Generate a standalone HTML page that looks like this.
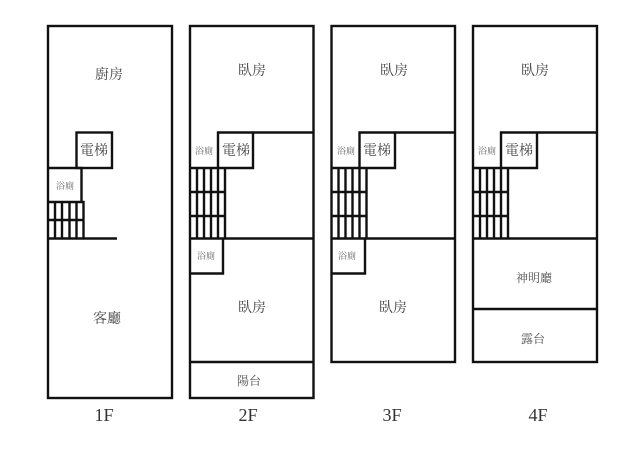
<!DOCTYPE html>
<html><head><meta charset="utf-8">
<style>
html,body{margin:0;padding:0;background:#fff;width:640px;height:452px;overflow:hidden}
svg{display:block}
text{font-family:"Liberation Serif","Noto Serif CJK SC",serif;fill:#444;text-anchor:middle}
.a{font-size:14px}.b{font-size:9px;fill:#666}.c{font-size:12px;fill:#555}
.f{font-size:18px;fill:#333}
</style></head><body>
<svg width="640" height="452" viewBox="0 0 640 452" xmlns="http://www.w3.org/2000/svg">
<g fill="none" stroke="#111" stroke-width="2.4">
<!-- 1F -->
<rect x="48" y="26" width="124" height="372"/>
<rect x="76.500" y="132.500" width="35.500" height="35.500"/>
<path d="M48 168H81.500V202M48 202H83.500V238M48 220H83.500M48 238.500H117M55 202V238M62 202V238M69.500 202V238M76.500 202V238"/>
<!-- 2F -->
<rect x="190" y="26" width="123.500" height="372"/>
<path d="M218 168V132.500H313.500M218 132.500H253V168H190M190 192H225M190 216H225M190 238.500H313.500M197 168V238M204 168V238M211 168V238M218 168V238M225 168V238M190 273.500H223V238M190 362H313.500"/>
<!-- 3F -->
<rect x="331.500" y="26" width="123.500" height="336"/>
<path d="M359.500 168V132.500H455M359.500 132.500H395V168H331.500M331.500 192H366.500M331.500 216H366.500M331.500 238.500H455M338.500 168V238M345.500 168V238M352.500 168V238M359.500 168V238M366.500 168V238M331.500 273.500H365V238"/>
<!-- 4F -->
<rect x="473" y="26" width="124" height="336"/>
<path d="M501 168V132.500H597M501 132.500H537V168H473M473 192H508M473 216H508M473 238.500H597M480 168V238M487 168V238M494 168V238M501 168V238M508 168V238M473 309H597"/>
</g>
<g>
<text class="a" x="109" y="79">廚房</text>
<text class="a" x="94" y="155">電梯</text>
<text class="b" x="65" y="189">浴廁</text>
<text class="a" x="107" y="323">客廳</text>
<text class="a" x="252" y="75">臥房</text>
<text class="b" x="204" y="154">浴廁</text>
<text class="a" x="236" y="155">電梯</text>
<text class="b" x="206" y="259">浴廁</text>
<text class="a" x="252" y="312">臥房</text>
<text class="c" x="249" y="385">陽台</text>
<text class="a" x="394" y="75">臥房</text>
<text class="b" x="346" y="154">浴廁</text>
<text class="a" x="377" y="155">電梯</text>
<text class="b" x="347" y="259">浴廁</text>
<text class="a" x="393" y="312">臥房</text>
<text class="a" x="535" y="75">臥房</text>
<text class="b" x="487" y="154">浴廁</text>
<text class="a" x="519" y="155">電梯</text>
<text class="c" x="534" y="282">神明廳</text>
<text class="c" x="533" y="343">露台</text>
</g>
<text class="f" x="104" y="421">1F</text>
<text class="f" x="248" y="421">2F</text>
<text class="f" x="392" y="421">3F</text>
<text class="f" x="538" y="421">4F</text>
</svg>
</body></html>
